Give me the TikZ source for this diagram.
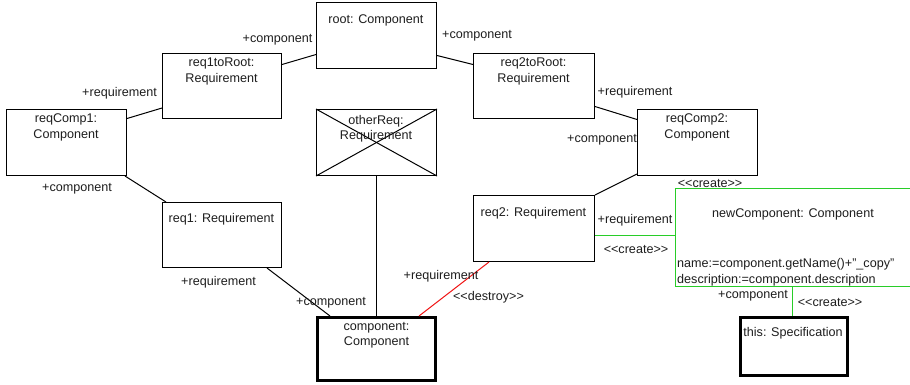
\documentclass[tikz,border=0pt]{standalone}
\usepackage{fontspec}
\setmainfont{Liberation Sans}
\usetikzlibrary{calc}
\definecolor{txt}{RGB}{30,30,30}
\definecolor{creategreen}{RGB}{40,205,40}
\definecolor{destroyred}{RGB}{240,20,20}
\newcommand\stereo[1]{<{}<#1>{}>}
\tikzset{
  obj/.style={draw=black, line width=1pt, inner sep=0pt},
  boundobj/.style={draw=black, line width=3pt, inner sep=0pt},
  newobj/.style={draw=creategreen, line width=1pt, inner sep=0pt},
  lbl/.style={inner sep=0pt, text=txt, font=\fontsize{12.6}{15.5}\selectfont, align=center},
  link/.style={line width=1pt, black},
  createlink/.style={line width=1.2pt, draw=creategreen},
  destroylink/.style={line width=1pt, draw=destroyred},
}
\begin{document}
\begin{tikzpicture}[x=1pt, y=-1pt]
\useasboundingbox (0,0) rectangle (910,384);
\fill[white] (0,0) rectangle (910,384);

% object boxes
\node[obj, minimum width=120pt, minimum height=66pt] (root) at (376.5,35.5) {};
\node[obj, minimum width=119pt, minimum height=65pt] (req1toRoot) at (222,86) {};
\node[obj, minimum width=120pt, minimum height=66pt] (reqComp1) at (66.5,142.5) {};
\node[obj, minimum width=120pt, minimum height=66pt] (otherReq) at (376.5,142.5) {};
\node[obj, minimum width=121pt, minimum height=65pt] (req2toRoot) at (534,86) {};
\node[obj, minimum width=120pt, minimum height=66pt] (reqComp2) at (697.5,142.5) {};
\node[obj, minimum width=119pt, minimum height=65pt] (req1) at (222,235) {};
\node[obj, minimum width=121pt, minimum height=66pt] (req2) at (534,228.5) {};
\node[boundobj, minimum width=118pt, minimum height=63pt] (component) at (376.5,349) {};
\node[boundobj, minimum width=107pt, minimum height=58pt] (this) at (794,346.5) {};
\node[newobj, minimum width=240pt, minimum height=98pt] (nc) at (795.5,237.5) {};

% the deleted object is crossed out
\draw[link] (otherReq.north west) -- (otherReq.south east);
\draw[link] (otherReq.south west) -- (otherReq.north east);

% object names
\node[lbl] at (376,20) {root: Component};
\node[lbl] at (221.5,71.5) {req1toRoot:\\Requirement};
\node[lbl] at (66,127.5) {reqComp1:\\Component};
\node[lbl] at (376,128.5) {otherReq:\\Requirement};
\node[lbl] at (533.5,71.5) {req2toRoot:\\Requirement};
\node[lbl] at (697,127.5) {reqComp2:\\Component};
\node[lbl] at (221.5,219) {req1: Requirement};
\node[lbl] at (533.5,213) {req2: Requirement};
\node[lbl] at (376.5,335) {component:\\Component};
\node[lbl] at (793,333) {this: Specification};
\node[lbl] at (793,214) {newComponent: Component};
\node[lbl, anchor=west, align=left] at (677,272) {name:=component.getName()+"\_copy"\\description:=component.description};
\node[lbl] at (710,183) {\stereo{create}};

% links
\draw[link] ($(req1toRoot.east)+(0,-21.5)$) -- ($(root.west)+(0,19)$);
\draw[link] ($(reqComp1.east)+(0,-24)$) -- ($(req1toRoot.west)+(0,22)$);
\draw[link] ($(root.east)+(0,20)$) -- ($(req2toRoot.west)+(0,-21.5)$);
\draw[link] ($(req2toRoot.east)+(0,20.5)$) -- ($(reqComp2.west)+(0,-23)$);
\draw[link] ($(reqComp2.south west)+(0,-2)$) -- (req2.north east);
\draw[link] ($(reqComp1.south east)+(-2,0)$) -- ($(req1.north west)+(4,0)$);
\draw[link] ($(req1.south east)+(-15,0)$) -- ($(component.north west)+(14,0)$);
\draw[link] (otherReq.south) -- (component.north);
\draw[destroylink] ($(req2.south west)+(16,0)$) -- ($(component.north east)+(-18,0)$);
\coordinate (req2out) at ($(req2.east)+(0,7)$);
\coordinate (ncin) at (req2out -| nc.west);
\draw[createlink] (req2out) -- (ncin);
\coordinate (thistop) at ($(this.north)+(-1.5,0)$);
\coordinate (ncout) at (thistop |- nc.south);
\draw[createlink] (thistop) -- (ncout);

% role names and stereotypes
\node[lbl] at (277.5,40) {+component};
\node[lbl] at (119.5,93) {+requirement};
\node[lbl] at (477,36) {+component};
\node[lbl] at (635,92) {+requirement};
\node[lbl] at (602,140) {+component};
\node[lbl] at (77,189) {+component};
\node[lbl] at (218.5,282) {+requirement};
\node[lbl] at (331,303) {+component};
\node[lbl] at (441,276) {+requirement};
\node[lbl] at (488.5,297) {\stereo{destroy}};
\node[lbl] at (635,220) {+requirement};
\node[lbl] at (636,249) {\stereo{create}};
\node[lbl] at (753,296) {+component};
\node[lbl] at (830,302) {\stereo{create}};
\end{tikzpicture}
\end{document}
